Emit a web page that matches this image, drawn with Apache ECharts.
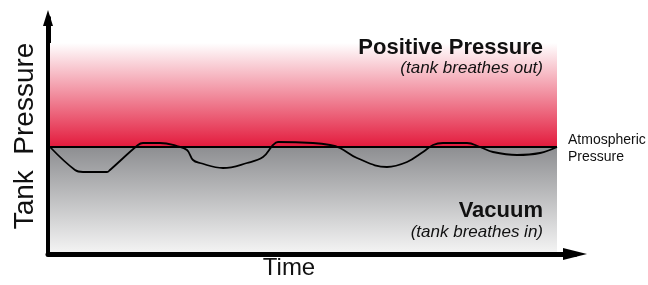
<!DOCTYPE html>
<html>
<head>
<meta charset="utf-8">
<style>
  html, body { margin: 0; padding: 0; background: #fff; }
  #chart { width: 648px; height: 285px; }
</style>
<script src="https://cdn.jsdelivr.net/npm/echarts@6/dist/echarts.min.js"></script>
</head>
<body>
<div id="chart"></div>
<script>
var chart = echarts.init(document.getElementById('chart'));

// time runs 0..527, pressure is relative to atmospheric (0)
var timeRange = [0, 527];
var pressureRange = [-107, 129];
var bandStart = 2, bandEnd = 509;
var positiveTop = 104;
var vacuumBottom = -105;

var waveTime = [2, 27, 35, 59, 62, 90, 95, 112, 129, 139, 145, 152, 175, 199, 215, 225, 230,
                265, 282, 292, 309, 339, 359, 375, 385, 395, 419, 432, 445, 469, 492, 509];
var wavePressure = [0, -23, -25, -25, -23, 2, 4, 4, 1, -3, -13, -16, -21, -16, -10, 2, 5,
                    4, 2, -1, -11, -20, -15, -5, 2, 4, 4, 0, -5, -8, -6, 0];

var waveData = [];
for (var i = 0; i < waveTime.length; i++) {
    waveData.push([waveTime[i], wavePressure[i]]);
}

var font = '"Liberation Sans", Arial, Helvetica, sans-serif';
var ink = '#111';

function label(x, y, text, style, align) {
    return {
        type: 'text', x: x, y: y, z: 100,
        style: { text: text, font: style + ' ' + font, fill: ink, align: align, verticalAlign: 'middle', lineHeight: 17 }
    };
}

var option = {
    animation: false,
    grid: { left: 48, right: 73, top: 18, bottom: 31 },
    xAxis: {
        type: 'value',
        min: timeRange[0],
        max: timeRange[1],
        axisLine: {
            onZero: false,
            lineStyle: { color: '#000', width: 5 },
            symbol: ['none', 'triangle'],
            symbolSize: [12, 24]
        },
        axisTick: { show: false },
        axisLabel: { show: false },
        splitLine: { show: false }
    },
    yAxis: {
        type: 'value',
        min: pressureRange[0],
        max: pressureRange[1],
        name: 'Tank  Pressure',
        nameLocation: 'middle',
        nameGap: 9,
        nameTextStyle: { fontFamily: font, fontSize: 28, color: ink },
        axisLine: {
            onZero: false,
            lineStyle: { color: '#000', width: 5 },
            symbol: ['none', 'triangle'],
            symbolSize: [10, 16]
        },
        axisTick: { show: false },
        axisLabel: { show: false },
        splitLine: { show: false }
    },
    series: [
        {
            // coloured bands + atmospheric line
            type: 'line',
            data: [[bandStart, 0], [bandEnd, 0]],
            symbol: 'none',
            lineStyle: { color: '#000', width: 2 },
            z: 3,
            markArea: {
                silent: true,
                data: [
                    [{
                        xAxis: bandStart, yAxis: positiveTop,
                        itemStyle: {
                            color: {
                                type: 'linear', x: 0, y: 0, x2: 0, y2: 1,
                                colorStops: [
                                    { offset: 0, color: '#ffffff' },
                                    { offset: 1, color: '#e31a3c' }
                                ]
                            }
                        }
                    }, { xAxis: bandEnd, yAxis: 0 }],
                    [{
                        xAxis: bandStart, yAxis: 0,
                        itemStyle: {
                            color: {
                                type: 'linear', x: 0, y: 0, x2: 0, y2: 1,
                                colorStops: [
                                    { offset: 0, color: '#8d8e91' },
                                    { offset: 1, color: '#f3f3f3' }
                                ]
                            }
                        }
                    }, { xAxis: bandEnd, yAxis: vacuumBottom }]
                ]
            }
        },
        {
            type: 'line',
            data: waveData,
            smooth: 0.4,
            symbol: 'none',
            lineStyle: { color: '#000', width: 1.8 },
            z: 4
        }
    ],
    graphic: [
        label(289, 268, 'Time', '24px', 'center'),
        label(543, 47.5, 'Positive Pressure', 'bold 22px', 'right'),
        label(543, 68, '(tank breathes out)', 'italic 17px', 'right'),
        label(543, 210.5, 'Vacuum', 'bold 22px', 'right'),
        label(543, 232, '(tank breathes in)', 'italic 17px', 'right'),
        label(568, 149, 'Atmospheric\nPressure', '14px', 'left')
    ]
};

chart.setOption(option);
</script>
</body>
</html>
